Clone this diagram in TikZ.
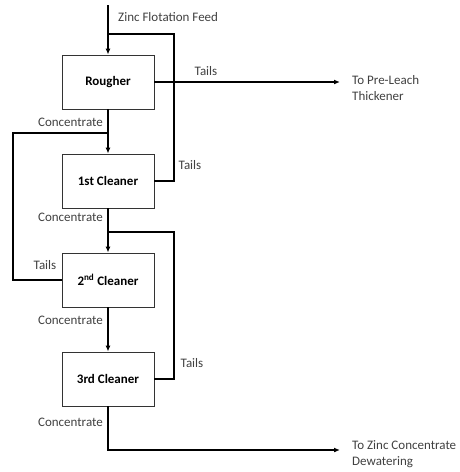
\documentclass[tikz,border=0pt]{standalone}
\usepackage{fontspec}
\setmainfont{Carlito}
\usetikzlibrary{arrows.meta}

\tikzset{
  cell/.style={draw=black!80, line width=0.8pt, minimum width=92pt, minimum height=54pt,
    inner sep=0pt, font=\bfseries\fontsize{13}{16}\selectfont},
  flow/.style={line width=1.3pt},
  flowarrow/.style={flow, -{Latex[length=6pt,width=5pt]}},
  lbl/.style={text=black!75, inner sep=0pt, font=\fontsize{13}{16}\selectfont},
}

\begin{document}
\begin{tikzpicture}[x=1pt,y=-1pt]
  \useasboundingbox (0,0) rectangle (459,472);
  % Flotation cells
  \node[cell] (rougher) at (108,82) {Rougher};
  \node[cell] (cleanA) at (108,181) {1st Cleaner};
  \node[cell] (cleanB) at (108,280) {2\textsuperscript{nd} Cleaner};
  \node[cell] (cleanC) at (108,379) {3rd Cleaner};
  % Bend points of the return lines
  \coordinate (feedtop) at (108,5);
  \coordinate (retA) at (174,34);
  \coordinate (retB) at (13,133);
  \coordinate (retC) at (174,232);
  \coordinate (bottom) at (108,450);
  % Texts
  \node[lbl, anchor=west] (feed) at (118,17) {Zinc Flotation Feed};
  \node[lbl, anchor=north west, align=left] (leach) at (352,75) {To Pre-Leach\\Thickener};
  \node[lbl, anchor=north west, align=left] (dewater) at (352,440) {To Zinc Concentrate\\Dewatering};
  \node[lbl] (tailsR) at (206,71) {Tails};
  \node[lbl] (tailsA) at (190,165) {Tails};
  \node[lbl] (tailsB) at (45,265) {Tails};
  \node[lbl] (tailsC) at (192,363) {Tails};
  \foreach \name/\y in {concR/122, concA/217, concB/320, concC/422}
    \node[lbl, anchor=east] (\name) at (103,\y) {Concentrate};
  % Feed and concentrate flows
  \draw[flowarrow] (feedtop) -- (rougher.north);
  \draw[flowarrow] (rougher.south) -- (cleanA.north);
  \draw[flowarrow] (cleanA.south) -- (cleanB.north);
  \draw[flowarrow] (cleanB.south) -- (cleanC.north);
  \draw[flowarrow] (cleanC.south) -- (bottom) -- ([xshift=-12pt]bottom -| dewater.west);
  % Tails
  \draw[flowarrow] (rougher.east) -- ([xshift=-12pt]rougher.east -| leach.west);
  \draw[flow] (cleanA.east) -| (retA) -- (retA -| rougher.north);
  \draw[flow] (cleanB.west) -| (retB) -- (retB -| cleanA.north);
  \draw[flow] (cleanC.east) -| (retC) -- (retC -| cleanB.north);
\end{tikzpicture}
\end{document}
